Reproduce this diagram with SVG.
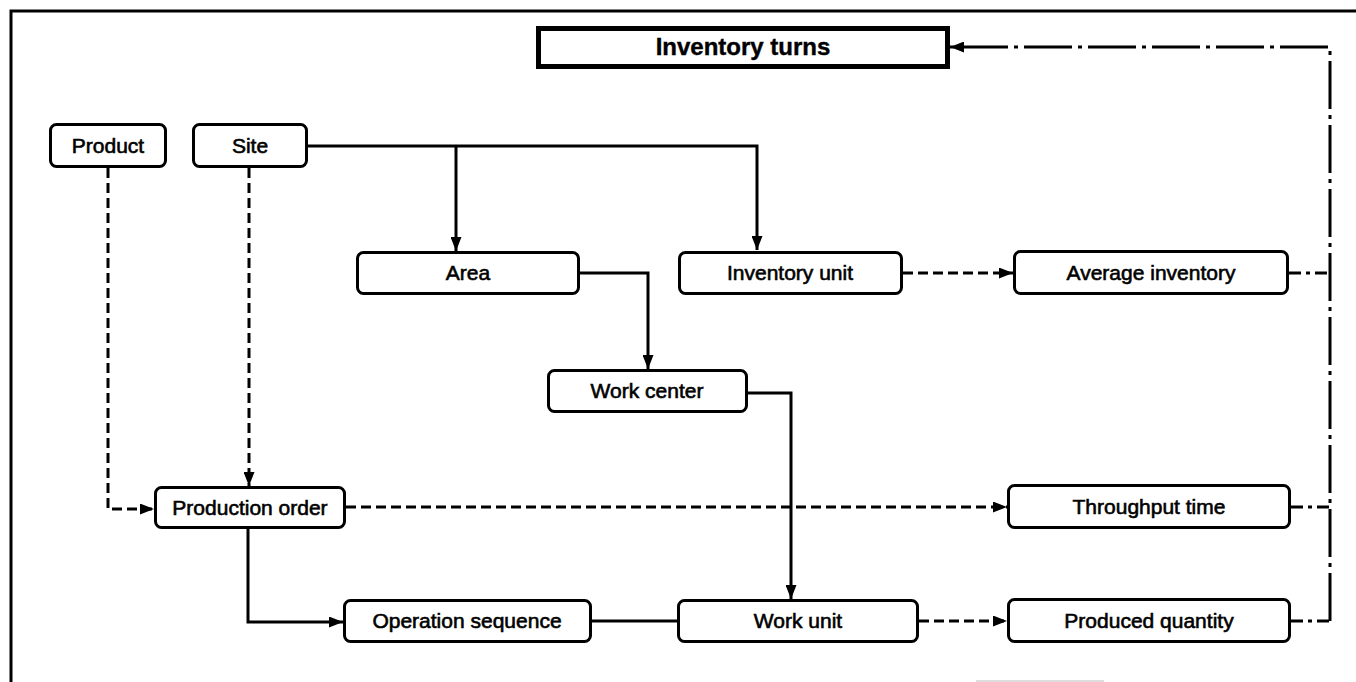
<svg xmlns="http://www.w3.org/2000/svg" width="1356" height="682" viewBox="0 0 1356 682">
<style>
.box{fill:#fff;stroke:#000;stroke-width:3}
.t{font-family:"Liberation Sans",Arial,sans-serif;font-size:21px;fill:#000;text-anchor:middle;stroke:#000;stroke-width:0.6}
.tb{font-family:"Liberation Sans",Arial,sans-serif;font-size:24px;font-weight:bold;fill:#000;text-anchor:middle;stroke:#000;stroke-width:0.4}
.c{fill:none;stroke:#000;stroke-width:3}
.d{fill:none;stroke:#000;stroke-width:3;stroke-dasharray:10 5}
.dd{fill:none;stroke:#000;stroke-width:3;stroke-dasharray:48 6 4 6}
.ds{fill:none;stroke:#000;stroke-width:3;stroke-dasharray:12 5 4 5}
</style>
<defs>
<marker id="ah" markerUnits="userSpaceOnUse" markerWidth="15" markerHeight="11" refX="14" refY="5.5" orient="auto">
<path d="M0,0 L14,5.5 L0,11 Z" fill="#000"/>
</marker>
</defs>
<rect width="1356" height="682" fill="#fff"/>
<g id="frame">
<path d="M11,682 V11 H1356" fill="none" stroke="#000" stroke-width="3"/>
<line x1="976" y1="681" x2="1104" y2="681" stroke="#bbb" stroke-width="1"/>
</g>
<g id="connectors">
<path class="c" d="M308,146 H757 V250" marker-end="url(#ah)"/>
<path class="c" d="M456,146 V251" marker-end="url(#ah)"/>
<path class="c" d="M580,273 H648 V369" marker-end="url(#ah)"/>
<path class="c" d="M748,393 H791 V599" marker-end="url(#ah)"/>
<path class="c" d="M248,529 V622 H343" marker-end="url(#ah)"/>
<path class="c" d="M592,621 H677"/>
<path class="d" d="M108,168 V509 H154" marker-end="url(#ah)"/>
<path class="d" d="M249,168 V486" marker-end="url(#ah)"/>
<path class="d" d="M346,507 H1007" marker-end="url(#ah)"/>
<path class="d" d="M903,273 H1013" marker-end="url(#ah)"/>
<path class="d" d="M919,621 H1007" marker-end="url(#ah)"/>
<path class="ds" d="M1289,273 H1330"/>
<path class="ds" d="M1291,507 H1330"/>
<path class="ds" d="M1291,621 H1330"/>
<path class="dd" d="M1330,621 V47 H950" marker-end="url(#ah)"/>
</g>
<g id="inventory-turns">
<rect x="538.5" y="28.5" width="409" height="38" fill="#fff" stroke="#000" stroke-width="5"/>
<text class="tb" x="743" y="55">Inventory turns</text>
</g>
<g id="product">
<rect class="box" x="50.5" y="124.5" width="115" height="42" rx="6"/>
<text class="t" x="108" y="153">Product</text>
</g>
<g id="site">
<rect class="box" x="193.5" y="124.5" width="113" height="42" rx="6"/>
<text class="t" x="250" y="153">Site</text>
</g>
<g id="area">
<rect class="box" x="357.5" y="252.5" width="221" height="41" rx="6"/>
<text class="t" x="468" y="280">Area</text>
</g>
<g id="inventory-unit">
<rect class="box" x="679.5" y="252.5" width="222" height="41" rx="6"/>
<text class="t" x="790" y="280">Inventory unit</text>
</g>
<g id="average-inventory">
<rect class="box" x="1014.5" y="251.5" width="273" height="42" rx="6"/>
<text class="t" x="1151" y="280">Average inventory</text>
</g>
<g id="work-center">
<rect class="box" x="548.5" y="370.5" width="198" height="41" rx="6"/>
<text class="t" x="647" y="398">Work center</text>
</g>
<g id="production-order">
<rect class="box" x="155.5" y="487.5" width="189" height="40" rx="6"/>
<text class="t" x="250" y="515">Production order</text>
</g>
<g id="throughput-time">
<rect class="box" x="1008.5" y="485.5" width="281" height="42" rx="6"/>
<text class="t" x="1149" y="514">Throughput time</text>
</g>
<g id="operation-sequence">
<rect class="box" x="344.5" y="600.5" width="246" height="41" rx="6"/>
<text class="t" x="467" y="628">Operation sequence</text>
</g>
<g id="work-unit">
<rect class="box" x="678.5" y="600.5" width="239" height="41" rx="6"/>
<text class="t" x="798" y="628">Work unit</text>
</g>
<g id="produced-quantity">
<rect class="box" x="1008.5" y="599.5" width="281" height="42" rx="6"/>
<text class="t" x="1149" y="628">Produced quantity</text>
</g>
</svg>
